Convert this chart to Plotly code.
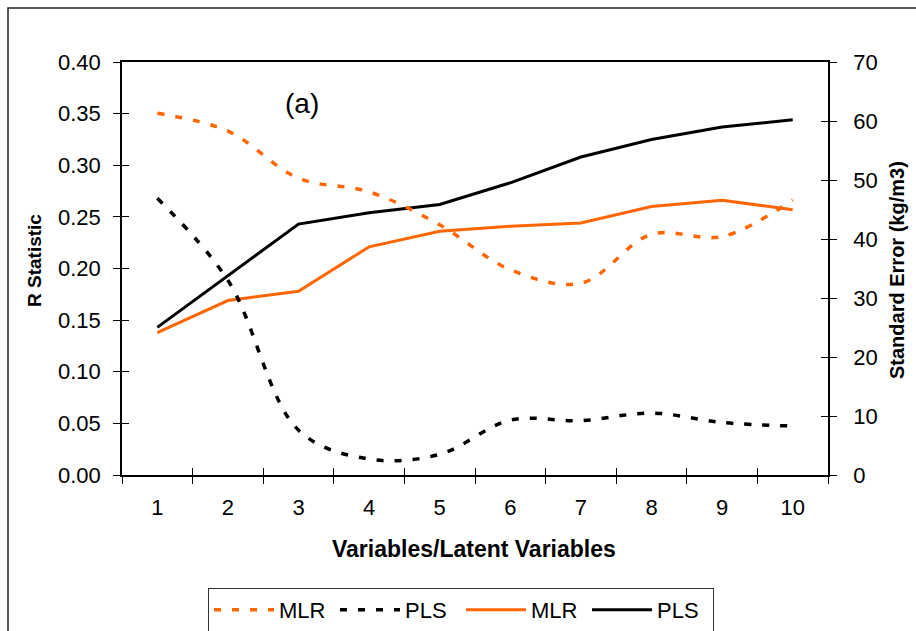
import plotly.graph_objects as go

# ---- data ----
categories = ["1", "2", "3", "4", "5", "6", "7", "8", "9", "10"]
# Standard error (kg/m3), right axis, dashed lines
mlr_se = [61.3, 58.3, 50.3, 48.0, 42.4, 34.8, 32.5, 40.8, 40.4, 46.6]
pls_se = [46.9, 33.0, 7.6, 2.7, 3.5, 9.3, 9.2, 10.5, 8.9, 8.3]
# R statistic, left axis, solid lines
mlr_r = [0.138, 0.169, 0.178, 0.221, 0.236, 0.241, 0.244, 0.260, 0.266, 0.257]
pls_r = [0.143, 0.193, 0.243, 0.254, 0.262, 0.283, 0.308, 0.325, 0.337, 0.344]

ORANGE = "#FF6600"
FONT = "Liberation Sans, Arial, sans-serif"

W, H = 916, 631
L, R, T, B = 122, 828, 62, 475


def px(x):
    return (x - L) / (R - L)


def py(y):
    return (B - y) / (B - T)


fig = go.Figure()
dash = "7px,11px"
fig.add_trace(go.Scatter(x=categories, y=mlr_se, name="MLR", yaxis="y2", mode="lines",
                         line=dict(color=ORANGE, width=3.5, dash=dash, shape="spline", smoothing=1)))
fig.add_trace(go.Scatter(x=categories, y=pls_se, name="PLS", yaxis="y2", mode="lines",
                         line=dict(color="black", width=3.5, dash=dash, shape="spline", smoothing=1)))
fig.add_trace(go.Scatter(x=categories, y=mlr_r, name="MLR", mode="lines",
                         line=dict(color=ORANGE, width=3)))
fig.add_trace(go.Scatter(x=categories, y=pls_r, name="PLS", mode="lines",
                         line=dict(color="black", width=3)))
# dummy traces to host overlay axes that draw the inner halves of cross ticks
fig.add_trace(go.Scatter(x=categories, y=[None] * 10, xaxis="x2", yaxis="y", showlegend=False,
                         hoverinfo="skip", mode="lines"))
fig.add_trace(go.Scatter(x=categories, y=[None] * 10, yaxis="y3", showlegend=False,
                         hoverinfo="skip", mode="lines"))
fig.add_trace(go.Scatter(x=categories, y=[None] * 10, yaxis="y4", showlegend=False,
                         hoverinfo="skip", mode="lines"))

tickfont = dict(family=FONT, size=22, color="black")
common_x = dict(type="category", categoryorder="array", categoryarray=categories,
                range=[-0.5, 9.5], tickson="boundaries", showgrid=False, zeroline=False)

fig.update_layout(
    width=W, height=H,
    margin=dict(l=L, r=W - R, t=T, b=H - B, pad=0, autoexpand=False),
    paper_bgcolor="white", plot_bgcolor="white",
    font=dict(family=FONT, color="black"),
    xaxis=dict(**common_x, showline=True, linecolor="black", linewidth=1.5, mirror=True,
               ticks="outside", ticklen=7, tickwidth=1.2, tickcolor="black",
               tickfont=tickfont, ticklabelstandoff=12, automargin=False),
    xaxis2=dict(**common_x, overlaying="x", showline=False, ticks="inside", ticklen=7,
                tickwidth=1.2, tickcolor="black", showticklabels=False),
    yaxis=dict(range=[0, 0.40], dtick=0.05, tickformat=".2f", showgrid=False, zeroline=False,
               showline=True, linecolor="black", linewidth=1.5,
               ticks="outside", ticklen=7, tickwidth=1.2, tickcolor="black",
               tickfont=tickfont, ticklabelstandoff=8, automargin=False),
    yaxis2=dict(range=[0, 70], dtick=10, overlaying="y", side="right", showgrid=False,
                zeroline=False, showline=True, linecolor="black", linewidth=1.5,
                ticks="outside", ticklen=7, tickwidth=1.2, tickcolor="black",
                tickfont=tickfont, ticklabelstandoff=12, automargin=False),
    yaxis3=dict(range=[0, 0.40], dtick=0.05, overlaying="y", side="left", showgrid=False,
                zeroline=False, showline=False, ticks="inside", ticklen=7, tickwidth=1.2,
                tickcolor="black", showticklabels=False),
    yaxis4=dict(range=[0, 70], dtick=10, overlaying="y", side="right", showgrid=False,
                zeroline=False, showline=False, ticks="inside", ticklen=7, tickwidth=1.2,
                tickcolor="black", showticklabels=False),
    legend=dict(orientation="h", x=px(208), xanchor="left", y=py(588), yanchor="top",
                bordercolor="#333333", borderwidth=1, bgcolor="white",
                font=dict(family=FONT, size=22, color="black"),
                itemwidth=60, entrywidth=51, entrywidthmode="pixels",
                tracegroupgap=0, itemclick=False),
    showlegend=True,
)

ann = dict(xref="paper", yref="paper", showarrow=False, xanchor="center", yanchor="middle")
annotations = [
    dict(text="(a)", x=px(302), y=py(104), font=dict(family=FONT, size=28, color="black"), **ann),
    dict(text="<b>Variables/Latent Variables</b>", x=px(474), y=py(549),
         font=dict(family=FONT, size=23, color="black"), **ann),
    dict(text="<b>R Statistic</b>", x=px(34), y=py(261), textangle=-90,
         font=dict(family=FONT, size=19, color="black"), **ann),
    dict(text="<b>Standard Error (kg/m3)</b>", x=px(897), y=py(270), textangle=-90,
         font=dict(family=FONT, size=20, color="black"), **ann),
]
fig.update_layout(annotations=annotations)

# outer chart frame (runs off the right and bottom edges)
fig.add_shape(type="rect", xref="paper", yref="paper", x0=px(8), y0=py(660), x1=px(960),
              y1=py(8), line=dict(color="#222222", width=1.5), fillcolor="rgba(0,0,0,0)",
              layer="below")

fig.write_html("out.html")
